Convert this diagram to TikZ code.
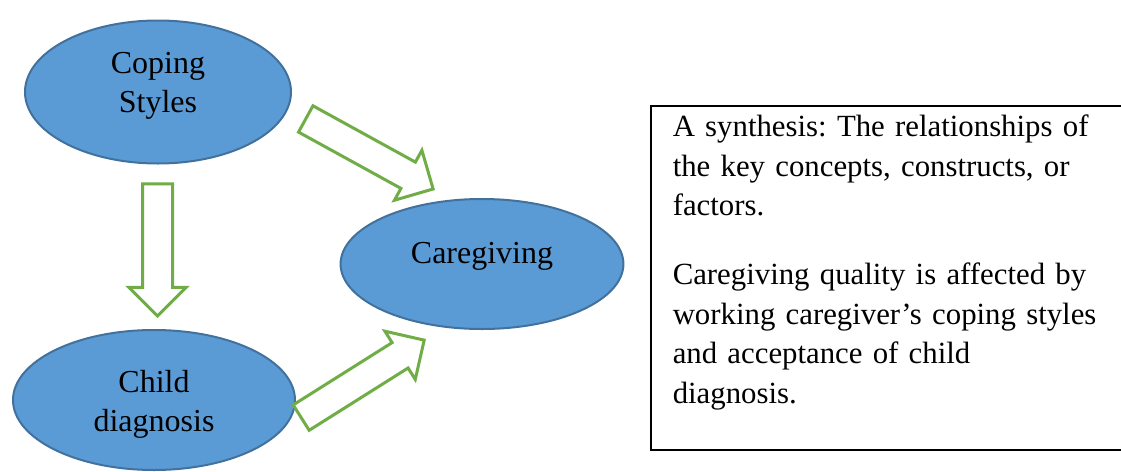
\documentclass[tikz,border=0pt]{standalone}
\usepackage{fontspec}
\setmainfont{Liberation Serif}
\usepackage{tikz}
\usetikzlibrary{shapes, shapes.geometric, shapes.arrows, positioning}
\definecolor{bubbleBlue}{HTML}{5B9BD5}
\definecolor{bubbleLine}{HTML}{41719C}
\definecolor{arrowGreen}{HTML}{70AD47}
\newcommand{\bubbleFont}{\fontsize{16pt}{19.5pt}\selectfont}
\newcommand{\synthFont}{\fontsize{15.4pt}{19.75pt}\selectfont\frenchspacing}
\tikzstyle{bubble}=[ellipse, draw=bubbleLine, line width=1pt, fill=bubbleBlue, inner sep=0pt, text width=80pt, align=center, text height=11.6pt, font=\bubbleFont]
\tikzstyle{blockArrow}=[single arrow, draw=arrowGreen, line width=1.5pt, fill=white, inner xsep=0pt, inner ysep=6.75pt, single arrow head extend=6.75pt, single arrow head indent=0pt, single arrow tip angle=90, anchor=tip]
\tikzstyle{synthBox}=[draw, line width=0.75pt, anchor=north west, inner xsep=11pt, inner ysep=0pt, text width=250pt, align=left, text height=15.5pt, font=\synthFont]

\begin{document}
\begin{tikzpicture}[x=0.5pt, y=-0.5pt]
    \useasboundingbox (0,0) rectangle (1121,472);
    % the three concepts
    \node[bubble, minimum width=133pt, minimum height=71.5pt, text depth=30.6pt] (cope) at (158,92) {Coping\\Styles};
    \node[bubble, minimum width=140pt, minimum height=65pt, text width=100pt, text depth=12.6pt] (care) at (482,264) {Caregiving};
    \node[bubble, minimum width=141pt, minimum height=70pt, text depth=19.6pt] (child) at (154,400) {Child\\diagnosis};
    % block arrows, placed by their tips
    \node[blockArrow, minimum height=66pt, rotate=-90] (copeChild) at (157.5,318) {};
    \node[blockArrow, minimum height=72.7pt, rotate=-28.8] (copeCare) at (435,190) {};
    \node[blockArrow, minimum height=72.7pt, rotate=32.2] (childCare) at (426,339) {};
    % synthesis text
    \node[synthBox, text depth=156.5pt] (synth) at (650,105) {A synthesis: The relationships of\\
      the key concepts, constructs, or\\
      factors.\\[14.75pt]
      Caregiving quality is affected by\\
      working caregiver’s coping styles\\
      and acceptance of child\\
      diagnosis.};
\end{tikzpicture}
\end{document}
